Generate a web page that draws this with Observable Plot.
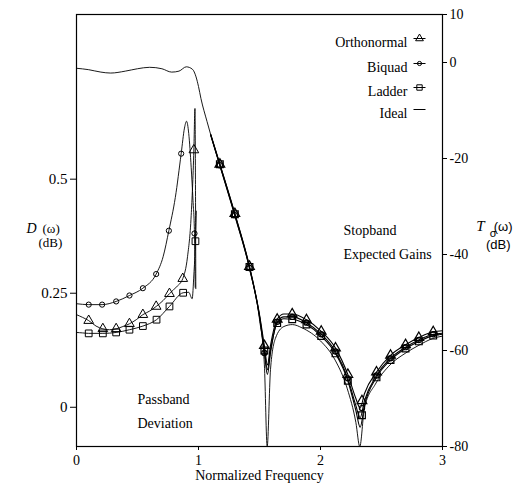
<!DOCTYPE html>
<html><head><meta charset="utf-8">
<script src="https://cdn.jsdelivr.net/npm/d3@7"></script>
<script src="https://cdn.jsdelivr.net/npm/@observablehq/plot@0.6"></script>
<style>body{margin:0;background:#fff}</style>
</head><body><div id="chart"></div>
<script>
// ---- axes / ticks ----
const xTicks = [0, 1, 2, 3];
const dTicks = [0, 0.25, 0.5];
const tTicks = [10, 0, -20, -40, -60, -80];
const dDomain = [-0.086, 0.861];
const tDomain = [-80, 10];
const seriesNames = ["Orthonormal", "Biquad", "Ladder", "Ideal"];

// ---- Ideal transfer T(ω) dB (right axis) ----
const idealT = [[0,-1.2],[0.1,-1.5],[0.2,-2.0],[0.28,-2.2],[0.4,-1.8],[0.5,-1.3],[0.6,-1.0],[0.7,-1.3],[0.78,-2.0],[0.84,-1.8],[0.9,-0.9],[0.95,-1.4],[0.98,-3],[1.0,-5],[1.02,-7.5],[1.07,-12.3],[1.175,-21.5],[1.298,-32],[1.418,-43],[1.5,-53.5],[1.54,-63],[1.563,-80],[1.59,-64],[1.63,-57.5],[1.7,-55],[1.77,-54.6],[1.85,-55.3],[2.0,-58],[2.12,-62],[2.22,-68],[2.29,-75],[2.322,-80],[2.36,-72],[2.45,-67],[2.57,-63],[2.7,-60.5],[2.8,-59],[2.92,-57.5],[3.0,-57]];

// ---- Passband deviation D(ω) dB (left axis) ----
const orthoD = [[0,0.203],[0.05,0.197],[0.1,0.19],[0.16,0.178],[0.216,0.172],[0.27,0.170],[0.325,0.172],[0.38,0.177],[0.434,0.183],[0.49,0.192],[0.544,0.203],[0.6,0.211],[0.653,0.221],[0.71,0.234],[0.762,0.249],[0.82,0.264],[0.871,0.282],[0.91,0.33],[0.94,0.42],[0.962,0.564],[0.971,0.655],[0.975,0.5],[0.978,0.26]];
const biquadD = [[0,0.227],[0.1,0.225],[0.21,0.225],[0.325,0.232],[0.434,0.245],[0.544,0.261],[0.653,0.292],[0.71,0.33],[0.757,0.387],[0.81,0.46],[0.858,0.556],[0.885,0.612],[0.902,0.627],[0.92,0.60],[0.94,0.526],[0.955,0.453],[0.967,0.381],[0.973,0.263]];
const ladderD = [[0,0.164],[0.05,0.163],[0.1,0.162],[0.216,0.162],[0.325,0.164],[0.434,0.170],[0.544,0.178],[0.656,0.192],[0.762,0.221],[0.874,0.251],[0.92,0.252],[0.948,0.238],[0.962,0.29],[0.975,0.364],[0.982,0.43]];

const orthoDMarks = [[0.1,0.19],[0.216,0.172],[0.325,0.172],[0.434,0.183],[0.544,0.203],[0.653,0.221],[0.762,0.249],[0.871,0.282],[0.962,0.564]];
const biquadDMarks = [[0.1,0.225],[0.21,0.225],[0.325,0.232],[0.434,0.245],[0.544,0.261],[0.653,0.292],[0.757,0.387],[0.858,0.556],[0.967,0.381]];
const ladderDMarks = [[0.1,0.162],[0.216,0.162],[0.325,0.164],[0.434,0.170],[0.544,0.178],[0.656,0.192],[0.762,0.221],[0.874,0.251],[0.975,0.364]];

// ---- Stopband expected gains T(ω) dB (right axis) ----
const orthoT = [[1.1,-15],[1.175,-21.2],[1.298,-31.5],[1.418,-42.5],[1.5,-52.5],[1.54,-59],[1.565,-63],[1.59,-59],[1.645,-53.5],[1.7,-52.4],[1.768,-52.4],[1.885,-53.6],[2.006,-56],[2.123,-59.5],[2.224,-65],[2.29,-70],[2.325,-72],[2.36,-69],[2.459,-64.5],[2.574,-61],[2.697,-58.8],[2.806,-57.3],[2.924,-56.1],[3,-55.9]];
const biquadT = [[1.1,-15.2],[1.175,-21.4],[1.298,-31.8],[1.418,-42.8],[1.5,-53],[1.54,-60.5],[1.565,-65],[1.59,-60.5],[1.645,-54],[1.7,-53],[1.768,-53],[1.885,-54.2],[2.006,-56.6],[2.123,-60.2],[2.224,-65.8],[2.29,-71.5],[2.325,-74],[2.36,-70.5],[2.459,-65.2],[2.574,-61.6],[2.697,-59.3],[2.806,-57.8],[2.924,-56.6],[3,-56.4]];
const ladderT = [[1.1,-15],[1.175,-21.2],[1.298,-31.6],[1.418,-42.6],[1.5,-52.8],[1.54,-60],[1.565,-64],[1.59,-60],[1.645,-54.3],[1.7,-53.4],[1.768,-53.5],[1.885,-54.6],[2.006,-57],[2.123,-60.6],[2.224,-66.3],[2.29,-72.5],[2.325,-76],[2.36,-71.5],[2.459,-65.6],[2.574,-62],[2.697,-59.6],[2.806,-58.1],[2.924,-56.9],[3,-56.6]];

const orthoTMarks = [[1.175,-21.2],[1.298,-31.5],[1.418,-42.5],[1.54,-59],[1.645,-53.5],[1.768,-52.4],[1.885,-53.6],[2.006,-56],[2.123,-59.5],[2.224,-65],[2.34,-70.5],[2.459,-64.5],[2.574,-61],[2.697,-58.8],[2.806,-57.3],[2.924,-56.1]];
const biquadTMarks = [[1.175,-21.4],[1.298,-31.8],[1.418,-42.8],[1.54,-60.5],[1.645,-54],[1.768,-53],[1.885,-54.2],[2.006,-56.6],[2.123,-60.2],[2.224,-65.8],[2.34,-72],[2.459,-65.2],[2.574,-61.6],[2.697,-59.3],[2.806,-57.8],[2.924,-56.6]];
const ladderTMarks = [[1.175,-21.2],[1.298,-31.6],[1.418,-42.6],[1.54,-60],[1.645,-54.3],[1.768,-53.5],[1.885,-54.6],[2.006,-57],[2.123,-60.6],[2.224,-66.3],[2.34,-73.5],[2.459,-65.6],[2.574,-62],[2.697,-59.6],[2.806,-58.1],[2.924,-56.9]];

const toD = d3.scaleLinear(tDomain, dDomain);
const X = d => d[0], YD = d => d[1], YT = d => toD(d[1]);
const serif = "Liberation Serif, Times New Roman, serif";
const sans = "Liberation Sans, Arial, sans-serif";

const symbols = ["triangle", "circle", "square"];
const radii = [3.6, 2.6, 3.8];
const passLines = [orthoD, biquadD, ladderD];
const stopLines = [orthoT, biquadT, ladderT];
const passMarks = [orthoDMarks, biquadDMarks, ladderDMarks];
const stopMarks = [orthoTMarks, biquadTMarks, ladderTMarks];
const dashSymbol = {draw(ctx) { ctx.moveTo(-6, 0); ctx.lineTo(6, 0); }};

const marks = [];
marks.push(Plot.line(idealT, {x: X, y: YT, curve: "monotone-x", stroke: "black", strokeWidth: 0.9}));
for (let i = 0; i < 3; i++) {
  marks.push(Plot.line(passLines[i], {x: X, y: YD, curve: "monotone-x", stroke: "black", strokeWidth: 0.9}));
  marks.push(Plot.line(stopLines[i], {x: X, y: YT, curve: "monotone-x", stroke: "black", strokeWidth: 1.1}));
  marks.push(Plot.dot(passMarks[i], {x: X, y: YD, symbol: symbols[i], r: radii[i], stroke: "black", fill: "none", strokeWidth: 1}));
  marks.push(Plot.dot(stopMarks[i], {x: X, y: YT, symbol: symbols[i], r: radii[i], stroke: "black", fill: "none", strokeWidth: 1.2}));
}
// legend
const legendDy = [23, 48, 72, 94];
seriesNames.forEach((name, i) => {
  marks.push(Plot.text([name], {frameAnchor: "top-right", dx: -35, dy: legendDy[i], textAnchor: "end", fontSize: 14, fontFamily: serif}));
  marks.push(Plot.dot([0], {frameAnchor: "top-right", dx: -23, dy: legendDy[i] + 1, symbol: dashSymbol, r: 3, stroke: "black", fill: "none", strokeWidth: 1}));
  if (i < 3) marks.push(Plot.dot([0], {frameAnchor: "top-right", dx: -23, dy: legendDy[i] + 1, symbol: symbols[i], r: radii[i] * 0.8, stroke: "black", fill: "none", strokeWidth: 1}));
});
// annotations
marks.push(Plot.text(["Passband"], {frameAnchor: "bottom-left", dx: 61, dy: -43, fontSize: 14, fontFamily: serif}));
marks.push(Plot.text(["Deviation"], {frameAnchor: "bottom-left", dx: 61, dy: -19, fontSize: 14, fontFamily: serif}));
marks.push(Plot.text(["Stopband"], {frameAnchor: "left", dx: 267, dy: 0, fontSize: 14, fontFamily: serif}));
marks.push(Plot.text(["Expected Gains"], {frameAnchor: "left", dx: 267, dy: 24, fontSize: 14, fontFamily: serif}));
// axis titles
marks.push(Plot.text(["D"], {frameAnchor: "left", dx: -50, dy: -2, fontSize: 14, fontFamily: serif, fontStyle: "italic"}));
marks.push(Plot.text(["(\u03c9)"], {frameAnchor: "left", dx: -34, dy: -2, fontSize: 13, fontFamily: serif}));
marks.push(Plot.text(["(dB)"], {frameAnchor: "left", dx: -38, dy: 12, fontSize: 13, fontFamily: serif}));
marks.push(Plot.text(["T"], {frameAnchor: "right", dx: 42, dy: -4, fontSize: 15, fontFamily: serif, fontStyle: "italic"}));
marks.push(Plot.text(["\u03c3"], {frameAnchor: "right", dx: 54, dy: 3, fontSize: 11, fontFamily: sans}));
marks.push(Plot.text(["(\u03c9)"], {frameAnchor: "right", dx: 70, dy: -4, fontSize: 13, fontFamily: sans}));
marks.push(Plot.text(["(dB)"], {frameAnchor: "right", dx: 68, dy: 14, fontSize: 13, fontFamily: sans}));
marks.push(Plot.text(["Normalized Frequency"], {frameAnchor: "bottom", dy: 33, fontSize: 14, fontFamily: serif}));

marks.push(Plot.frame({stroke: "black", strokeWidth: 1.2}));
marks.push(Plot.axisX({ticks: xTicks, tickSize: 4, tickPadding: 5, tickFormat: d => String(d), label: null, fontSize: 14}));
marks.push(Plot.axisY({anchor: "left", ticks: dTicks, tickSize: 6, tickPadding: 3, tickFormat: d => String(d), label: null, fontSize: 15}));
marks.push(Plot.axisY({anchor: "right", ticks: tTicks.map(t => toD(t)), tickSize: 4, tickPadding: 3, tickFormat: d => String(Math.round(toD.invert(d))), label: null, fontSize: 14}));

const chart = Plot.plot({
  width: 531, height: 489,
  marginLeft: 76, marginRight: 89, marginTop: 14, marginBottom: 43,
  x: {domain: [0, 3]},
  y: {domain: dDomain},
  style: {fontFamily: serif, fontSize: "14px", color: "black", background: "white"},
  marks
});
document.getElementById("chart").appendChild(chart);
</script>
</body></html>
